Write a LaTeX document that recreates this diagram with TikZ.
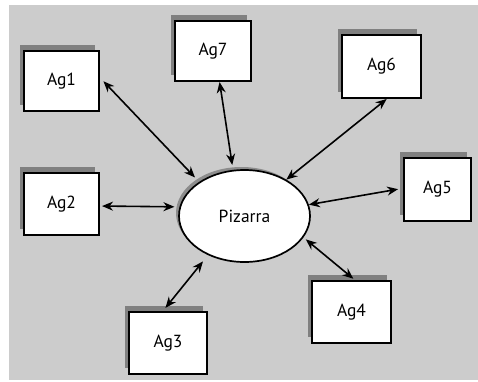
\documentclass[tikz,border=0pt]{standalone}
\usepackage{fontspec}
\setmainfont{PT Sans}
\usetikzlibrary{arrows.meta,shapes.geometric,shadows}
\definecolor{panel}{HTML}{CCCCCC}
\definecolor{shade}{HTML}{808080}
\definecolor{softshade}{HTML}{8C8C8C}
\begin{document}
\begin{tikzpicture}[x=1pt,y=-1pt,
  agent/.style={draw=black,fill=white,line width=2pt,rectangle,inner sep=0pt,
    font=\fontsize{17.5}{19}\selectfont,
    drop shadow={shadow xshift=-4pt,shadow yshift=6pt,fill=shade,opacity=1}},
  board/.style={draw=black,fill=white,line width=1.7pt,ellipse,inner sep=0pt,
    minimum width=131pt,minimum height=92pt,
    font=\fontsize{17.5}{19}\selectfont,
    drop shadow={shadow xshift=-3pt,shadow yshift=3pt,fill=softshade,opacity=1}},
  conn/.style={{Stealth[length=11pt,width=9pt]}-{Stealth[length=11pt,width=9pt]},line width=1.6pt}]
  \useasboundingbox (0,0) rectangle (478,381);
  % background panel
  \fill[panel] (9,5) rectangle (478,380);

  % shared blackboard
  \node[board] (pz) at (244.5,216) {Pizarra};

  % agents
  \node[agent,minimum width=75pt,minimum height=60pt] (ag1) at (61.5,81) {Ag1};
  \node[agent,minimum width=76pt,minimum height=60pt] (ag7) at (213,51) {Ag7};
  \node[agent,minimum width=79pt,minimum height=63pt] (ag6) at (381.5,66.5) {Ag6};
  \node[agent,minimum width=67pt,minimum height=63pt] (ag5) at (437.5,189.5) {Ag5};
  \node[agent,minimum width=75pt,minimum height=62pt] (ag2) at (61.5,204) {Ag2};
  \node[agent,minimum width=78pt,minimum height=62pt] (ag3) at (168,343) {Ag3};
  \node[agent,minimum width=79pt,minimum height=62pt] (ag4) at (351.5,312) {Ag4};

  % links between agents and the blackboard
  \draw[conn,shorten <=5pt,shorten >=6pt] (ag1.5) -- (pz.143);
  \draw[conn,shorten >=5pt] (ag7.-78) -- (pz.104);
  \draw[conn] (ag6.-81) -- (pz.41.5);
  \draw[conn,shorten <=5pt] (ag5.178) -- (pz.10);
  \draw[conn,shorten <=2pt,shorten >=5pt] (ag2.-3) -- (pz.172);
  \draw[conn,shorten <=4pt,shorten >=8pt] (ag3.99.5) -- (pz.227.7);
  \draw[conn,shorten <=2pt,shorten >=3pt] (ag4.84) -- (pz.-20.4);
\end{tikzpicture}
\end{document}
